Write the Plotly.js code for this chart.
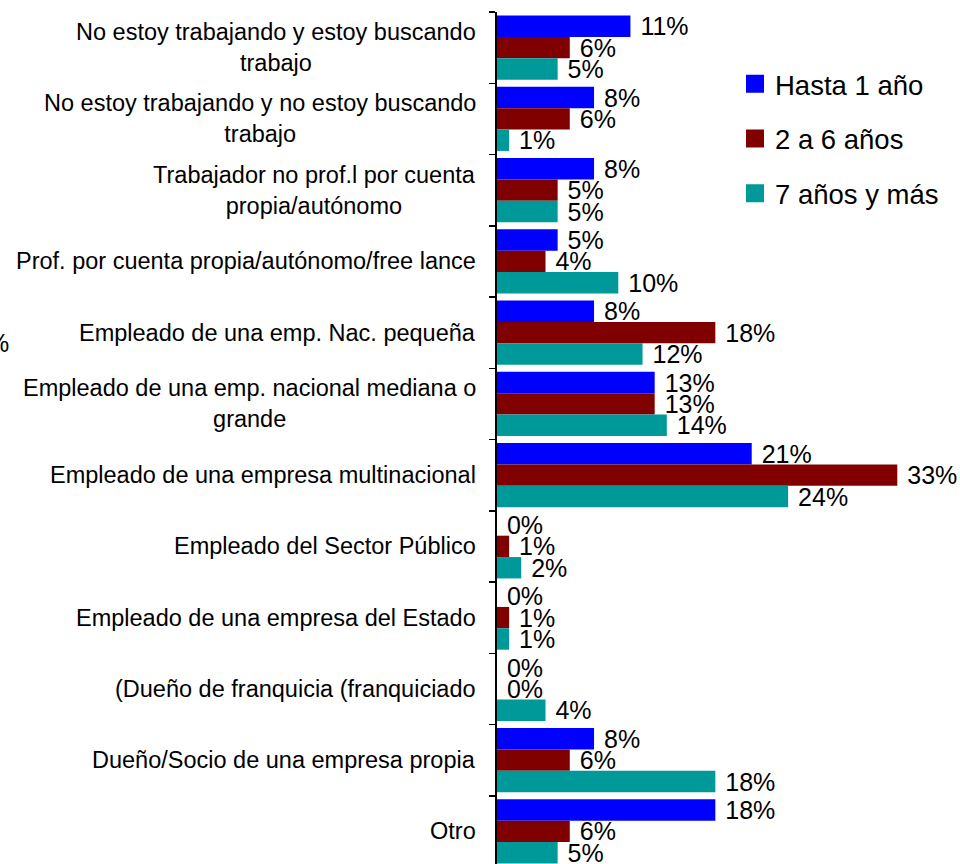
<!DOCTYPE html>
<html>
<head>
<meta charset="utf-8">
<script src="https://cdn.plot.ly/plotly-3.0.1.min.js"></script>
<style>
html,body{margin:0;padding:0;overflow:hidden;background:#fff;}
#chart{width:960px;height:867px;}
</style>
</head>
<body>
<div id="chart"></div>
<script>
const categories = [
  "No estoy trabajando y estoy buscando<br>trabajo",
  "No estoy trabajando y no estoy buscando<br>trabajo",
  "Trabajador no prof.l por cuenta<br>propia/autónomo",
  "Prof. por cuenta propia/autónomo/free lance",
  "Empleado de una emp. Nac. pequeña",
  "Empleado de una emp. nacional mediana o<br>grande",
  "Empleado de una empresa multinacional",
  "Empleado del Sector Público",
  "Empleado de una empresa del Estado",
  "(Dueño de franquicia (franquiciado",
  "Dueño/Socio de una empresa propia",
  "Otro"
];
const seriesNames = ["Hasta 1 año", "2 a 6 años", "7 años y más"];
const hasta1 = [11, 8, 8, 5, 8, 13, 21, 0, 0, 0, 8, 18];
const de2a6 = [6, 6, 5, 4, 18, 13, 33, 1, 1, 0, 6, 6];
const de7mas = [5, 1, 5, 10, 12, 14, 24, 2, 1, 4, 18, 5];
const colors = ["#0000FF", "#800000", "#009999"];

const FONT = "Liberation Sans, Arial, sans-serif";
const bars = [hasta1, de2a6, de7mas].map((vals, i) => ({
  type: "bar",
  orientation: "h",
  name: seriesNames[i],
  x: vals,
  y: categories,
  marker: {color: colors[i]},
  text: vals.map(v => "\u00a0" + v + "%"),
  textposition: "outside",
  constraintext: "none",
  cliponaxis: false,
  textfont: {family: FONT, size: 25, color: "#000"},
  legendgroup: "g" + i,
  showlegend: false,
  hoverinfo: "x+y+name"
}));
// legend entries (square swatches) for the three series
const legendItems = seriesNames.map((n, i) => ({
  type: "scatter",
  mode: "markers",
  name: n,
  x: [null], y: [null],
  marker: {symbol: "square", size: 16, color: colors[i], line: {color: colors[i], width: 2}},
  legendgroup: "g" + i,
  showlegend: true,
  hoverinfo: "skip"
}));
const data = bars.concat(legendItems);

const annotations = categories.map(c => ({
  xref: "paper", yref: "y",
  x: -0.041, y: c,
  xanchor: "right", yanchor: "middle",
  align: "center",
  text: c,
  showarrow: false,
  font: {family: FONT, size: 23.5, color: "#000"}
}));
annotations.push({
  xref: "paper", yref: "paper",
  x: -1.0497, y: 0.613,
  xanchor: "right", yanchor: "middle",
  text: "%", showarrow: false,
  font: {family: FONT, size: 25, color: "#000"}
});

const layout = {
  width: 960, height: 867,
  margin: {l: 497, r: 0, t: 12, b: 0, pad: 0},
  paper_bgcolor: "#fff", plot_bgcolor: "#fff",
  barmode: "group",
  bargap: 0.1,
  bargroupgap: 0,
  showlegend: true,
  legend: {
    x: 0.514, y: 0.9445, xanchor: "left", yanchor: "top",
    font: {family: FONT, size: 27.5, color: "#000"},
    bgcolor: "rgba(0,0,0,0)",
    traceorder: "grouped",
    tracegroupgap: 16
  },
  xaxis: {
    range: [0, 38.17],
    visible: false,
    fixedrange: true
  },
  yaxis: {
    type: "category",
    autorange: "reversed",
    showticklabels: false,
    ticks: "outside",
    tickson: "boundaries",
    ticklen: 6,
    tickwidth: 1.5,
    tickcolor: "#000",
    showline: true,
    linecolor: "#000",
    linewidth: 2,
    showgrid: false,
    zeroline: false
  },
  annotations: annotations,
  font: {family: FONT, color: "#000"}
};

Plotly.newPlot("chart", data, layout, {displayModeBar: false, staticPlot: true});
</script>
</body>
</html>
